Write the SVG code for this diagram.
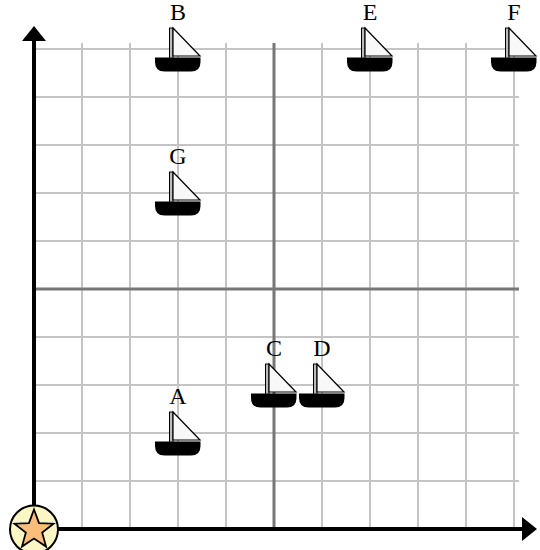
<svg xmlns="http://www.w3.org/2000/svg" width="540" height="550" viewBox="0 0 540 550">
<style>
.grid{stroke:#c4c4c4;stroke-width:2;fill:none}
.mid{stroke:#777;stroke-width:3;fill:none}
.axis{stroke:#000;stroke-width:4;fill:none}
.lbl{font-family:"Liberation Serif","Times New Roman",serif;font-size:24px;fill:#000;text-anchor:middle}
</style>
<defs>
<g id="boat">
<path d="M-23,8.5 H22.5 V13 Q22.5,22.5 13,22.5 H-13.5 Q-23,22.5 -23,13 Z" fill="#000"/>
<rect x="-8.5" y="-21" width="3.5" height="30" fill="#bbb" stroke="#000" stroke-width="1"/>
<path d="M-5,-21 L22,7 L-5,7 Z" fill="#f8f8f8" stroke="#000" stroke-width="1.2" stroke-linejoin="miter"/>
</g>
</defs>
<rect width="540" height="550" fill="#fff"/>
<g id="grid">
<path class="grid" d="M82,43V529M130,43V529M178,43V529M226,43V529M322,43V529M370,43V529M418,43V529M466,43V529M514,43V529"/>
<path class="grid" d="M34,49H519M34,97H519M34,145H519M34,193H519M34,241H519M34,337H519M34,385H519M34,433H519M34,481H519"/>
<path class="mid" d="M274,43V529M34,289H519"/>
</g>
<g id="connectors">
<path class="axis" d="M34,529V40"/>
<path d="M34,26 L22,41 L46,41 Z" fill="#000"/>
<path class="axis" d="M34,529H523"/>
<path d="M537,529 L522,517 L522,541 Z" fill="#000"/>
</g>
<g id="origin">
<circle cx="34" cy="529.5" r="24" fill="#fbf6c4" stroke="#000" stroke-width="2"/>
<path d="M34,509.5 L39.05,523.04 L53.5,523.67 L42.18,532.66 L46.05,546.58 L34,538.6 L21.95,546.58 L25.82,532.66 L14.5,523.67 L28.95,523.04 Z" fill="#fdbd7a" stroke="#000" stroke-width="1.8" stroke-linejoin="miter"/>
</g>
<g id="A"><use href="#boat" x="178" y="433"/><text class="lbl" x="178" y="404">A</text></g>
<g id="B"><use href="#boat" x="178" y="49"/><text class="lbl" x="178" y="20">B</text></g>
<g id="C"><use href="#boat" x="274" y="385"/><text class="lbl" x="274" y="356">C</text></g>
<g id="D"><use href="#boat" x="322" y="385"/><text class="lbl" x="322" y="356">D</text></g>
<g id="E"><use href="#boat" x="370" y="49"/><text class="lbl" x="370" y="20">E</text></g>
<g id="F"><use href="#boat" x="514" y="49"/><text class="lbl" x="514" y="20">F</text></g>
<g id="G"><use href="#boat" x="178" y="193"/><text class="lbl" x="178" y="164">G</text></g>
</svg>
